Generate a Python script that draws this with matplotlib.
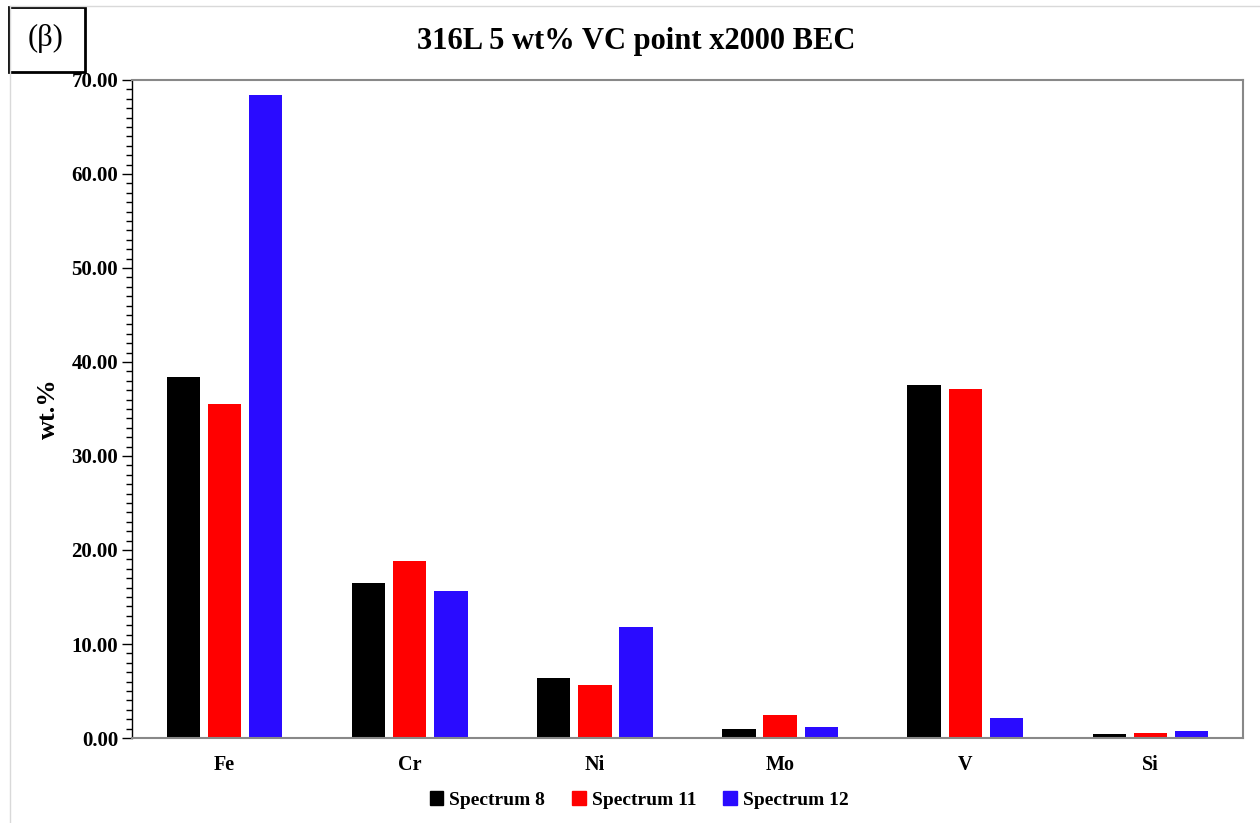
import numpy as np
import matplotlib.pyplot as plt
from matplotlib.patches import Rectangle
from matplotlib.lines import Line2D
from matplotlib.ticker import MultipleLocator, FormatStrFormatter

elements = ['Fe', 'Cr', 'Ni', 'Mo', 'V', 'Si']
spectrum_8 = [38.4, 16.5, 6.4, 1.0, 37.5, 0.45]
spectrum_11 = [35.5, 18.8, 5.6, 2.45, 37.1, 0.55]
spectrum_12 = [68.4, 15.6, 11.8, 1.2, 2.1, 0.7]
series_names = ['Spectrum 8', 'Spectrum 11', 'Spectrum 12']
colors = ['#000000', '#ff0000', '#2a0bff']

plt.rcParams['font.family'] = ['Liberation Serif', 'DejaVu Serif']

fig = plt.figure(figsize=(12.6, 8.23), dpi=100)
ax = fig.add_axes([132/1260, 1-738/823, (1243-132)/1260, (738-80)/823])

x = np.arange(len(elements))
width = 0.18
offset = 0.222
for i, vals in enumerate([spectrum_8, spectrum_11, spectrum_12]):
    ax.bar(x + (i-1)*offset, vals, width, color=colors[i], label=series_names[i])

ax.set_xlim(-0.5, len(elements)-0.5)
ax.set_ylim(0, 70)
ax.yaxis.set_major_locator(MultipleLocator(10))
ax.yaxis.set_minor_locator(MultipleLocator(1))
ax.yaxis.set_major_formatter(FormatStrFormatter('%.2f'))
ax.set_xticks(x)
ax.set_xticklabels(elements, fontsize=14.5, fontweight='bold')
for lab in ax.get_yticklabels():
    lab.set_fontsize(15)
    lab.set_fontweight('bold')
ax.tick_params(axis='x', length=0, pad=12)
ax.tick_params(axis='y', which='major', length=7, width=1, color='#000000', pad=3)
ax.tick_params(axis='y', which='minor', length=4, width=1, color='#000000')
for s in ax.spines.values():
    s.set_color('#888888')
    s.set_linewidth(1.5)
ax.spines['left'].set_color('#000000')
ax.spines['left'].set_linewidth(1)

ax.set_ylabel('wt.%', fontsize=19, fontweight='bold', labelpad=8)
fig.text(636/1260, 1-42/823, '316L 5 wt% VC point x2000 BEC', ha='center', va='center',
         fontsize=22, fontweight='bold')

# (β) panel label box
fig.patches.append(Rectangle((9/1260, 1-72/823), 76/1260, 65/823, transform=fig.transFigure,
                             fill=False, edgecolor='black', linewidth=2))
fig.text(46/1260, 1-38/823, '(β)', ha='center', va='center', fontsize=22)

# faint chart-area border
fig.lines.append(Line2D([10/1260, 1], [1-6/823, 1-6/823], transform=fig.transFigure,
                        color='#d9d9d9', linewidth=1))
fig.lines.append(Line2D([10/1260, 10/1260], [0, 1-6/823], transform=fig.transFigure,
                        color='#d9d9d9', linewidth=1))

handles = [Rectangle((0, 0), 1, 1, color=c) for c in colors]
fig.legend(handles, series_names, loc='center', bbox_to_anchor=(639/1260, 1-800/823), ncol=3,
           frameon=False, prop={'weight': 'bold', 'size': 14}, handlelength=0.7,
           handleheight=0.7, handletextpad=0.3, columnspacing=1.4)

fig.savefig('out.png', dpi=100)
